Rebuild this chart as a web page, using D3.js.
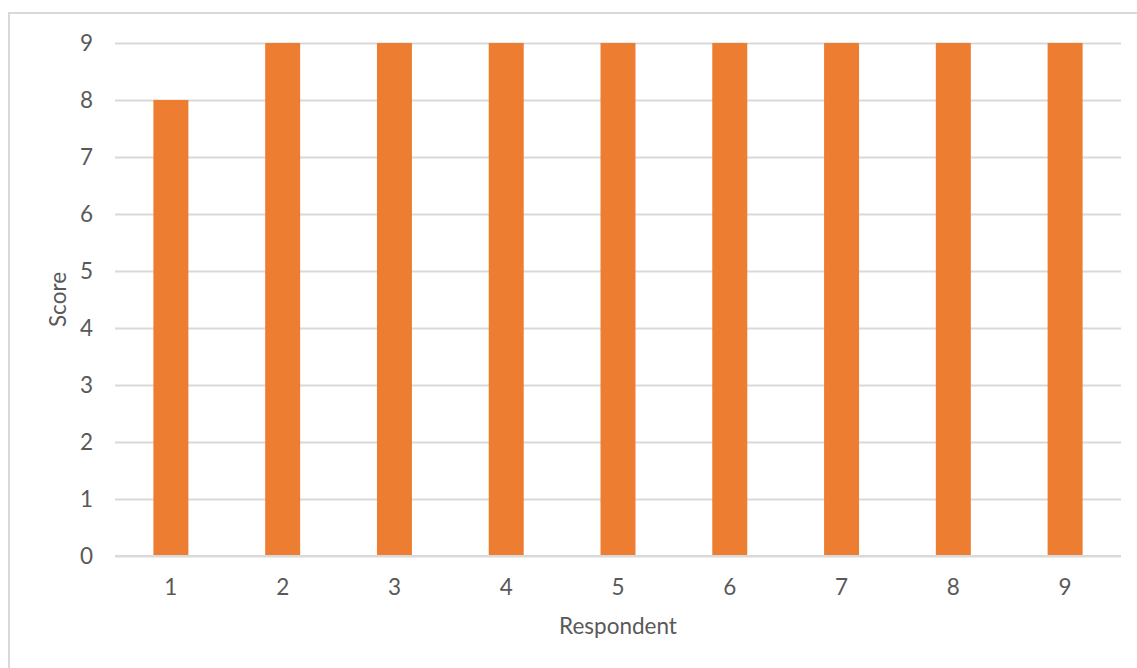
<!DOCTYPE html>
<html>
<head>
<meta charset="utf-8">
<script src="https://cdn.jsdelivr.net/npm/d3@7"></script>
<style>
  html, body { margin: 0; padding: 0; background: #fff; }
  svg { display: block; }
  text { font-family: "Lato", "Open Sans", sans-serif; fill: #595959; }
</style>
</head>
<body>
<svg id="chart" width="1137" height="668"></svg>
<script>
const categories = ["1", "2", "3", "4", "5", "6", "7", "8", "9"];
const scores = [8, 9, 9, 9, 9, 9, 9, 9, 9];
const yTicks = [0, 1, 2, 3, 4, 5, 6, 7, 8, 9];
const xTitle = "Respondent";
const yTitle = "Score";

const W = 1137, H = 668;
const FS = 22.5;
const plot = { left: 115, right: 1121, top: 43, bottom: 556 };
const svg = d3.select("#chart");

// outer chart border
svg.append("rect")
  .attr("x", 9).attr("y", 13)
  .attr("width", W + 20).attr("height", H + 20)
  .attr("fill", "none").attr("stroke", "#d9d9d9").attr("stroke-width", 2);

const x = d3.scaleBand().domain(categories)
  .range([plot.left, plot.right])
  .paddingInner(0.687).paddingOuter(0.3435);
const y = d3.scaleLinear().domain([0, 9]).range([plot.bottom, plot.top]);

// gridlines
const yAxis = d3.axisLeft(y).tickValues(yTicks)
  .tickSize(-(plot.right - plot.left)).tickPadding(22).tickFormat(d3.format("d"));
const gy = svg.append("g").attr("transform", `translate(${plot.left},0)`).call(yAxis);
gy.select(".domain").remove();
gy.selectAll(".tick line").attr("stroke", "#d9d9d9").attr("stroke-width", 2);
gy.selectAll(".tick text").attr("font-size", FS).attr("dy", "0.34em").style("fill", "#595959");

// bars
svg.append("g").selectAll("rect").data(scores).join("rect")
  .attr("x", (d, i) => x(categories[i]))
  .attr("y", d => y(d))
  .attr("width", x.bandwidth())
  .attr("height", d => y(0) - y(d))
  .attr("fill", "#ED7D31");

// x axis
const xAxis = d3.axisBottom(x).tickSize(0).tickPadding(23);
const gx = svg.append("g").attr("transform", `translate(0,${plot.bottom})`).call(xAxis);
gx.select(".domain").remove();
gx.selectAll(".tick text").attr("font-size", FS).style("fill", "#595959");
svg.append("line")
  .attr("x1", plot.left).attr("x2", plot.right)
  .attr("y1", y(0)).attr("y2", y(0))
  .attr("stroke", "#d9d9d9").attr("stroke-width", 2);

// titles
svg.append("text")
  .attr("x", (plot.left + plot.right) / 2).attr("y", 634)
  .attr("text-anchor", "middle").attr("font-size", FS)
  .text(xTitle);
svg.append("text")
  .attr("transform", `translate(66,${(plot.top + plot.bottom) / 2}) rotate(-90)`)
  .attr("text-anchor", "middle").attr("font-size", FS)
  .text(yTitle);
</script>
</body>
</html>
